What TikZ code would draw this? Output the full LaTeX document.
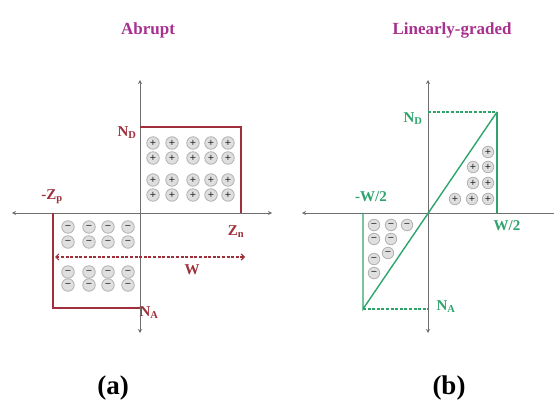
\documentclass[tikz,border=0pt]{standalone}
\usepackage{fontspec}
\setmainfont{Liberation Serif}
\usetikzlibrary{arrows.meta,positioning}
\definecolor{abr}{HTML}{9E2F3B}
\definecolor{lin}{HTML}{2EA46C}
\definecolor{head}{HTML}{A8318F}
\definecolor{axc}{HTML}{6F6F6F}

\begin{document}
\begin{tikzpicture}[x=1pt, y=-1pt,
      ax/.style={draw=axc, line width=0.9pt, {Stealth[length=4pt,width=4pt]}-{Stealth[length=4pt,width=4pt]}},
      prof/.style={line width=1.4pt},
      dsh/.style={line width=1.2pt, dash pattern=on 3pt off 1.6pt},
      ion/.style={circle, draw=gray!60, fill=gray!25, line width=0.8pt, inner sep=0pt,
                  minimum size=12.5pt, font=\fontsize{11}{11}\selectfont\bfseries, text=black!85},
      lbl/.style={font=\fontsize{15}{17}\selectfont\bfseries},
      heading/.style={font=\fontsize{17}{19}\selectfont\bfseries, text=head},
      tag/.style={font=\fontsize{27}{30}\selectfont\bfseries}]
    \useasboundingbox (0,0) rectangle (554,403);
    % (a) abrupt
    \node[heading] (ta) at (148,30) {Abrupt};
    \coordinate (aL) at (12,213);
    \coordinate (aR) at (272,213);
    \coordinate (aT) at (140,80);
    \coordinate (aB) at (140,333);
    \draw[ax] (aL) -- (aR);
    \draw[ax] (aT) -- (aB);
    \coordinate (nd0) at (140,127);
    \coordinate (nd1) at (241,127);
    \coordinate (zn) at (241,213);
    \coordinate (zp) at (53,213);
    \coordinate (na0) at (53,308);
    \coordinate (na1) at (140,308);
    \draw[prof, abr] (nd0) -- (nd1) -- (zn);
    \draw[prof, abr] (zp) -- (na0) -- (na1);
    \foreach \x [count=\i] in {153,172,193,211,228}
      \foreach \y [count=\j] in {143,158,180,195}
        \node[ion] (pa-\i-\j) at (\x,\y) {+};
    \foreach \x [count=\i] in {68,89,108,128}
      \foreach \y [count=\j] in {227,242,272,285}
        \node[ion] (ma-\i-\j) at (\x,\y) {−};
    \coordinate (wl) at (55,257);
    \coordinate (wr) at (245,257);
    \draw[abr, dsh, {Straight Barb[length=3pt]}-{Straight Barb[length=3pt]}] (wl) -- (wr);
    \node[lbl, abr] (lnd) at (127,133) {N\textsubscript{D}};
    \node[lbl, abr] (lzp) at (52,197) {-Z\textsubscript{p}};
    \node[lbl, abr] (lzn) at (236,232) {Z\textsubscript{n}};
    \node[lbl, abr] (lw) at (192,270) {W};
    \node[lbl, abr] (lna) at (149,313) {N\textsubscript{A}};
    \node[tag] (tga) at (113,388) {(a)};
    % (b) linearly graded
    \node[heading] (tb) at (452,30) {Linearly-graded};
    \coordinate (bL) at (302,213);
    \coordinate (bR) at (554,213);
    \coordinate (bT) at (428,80);
    \coordinate (bB) at (428,333);
    \draw[draw=axc, line width=0.9pt, {Stealth[length=4pt,width=4pt]}-] (bL) -- (bR);
    \draw[ax] (bT) -- (bB);
    \coordinate (bd0) at (428,112);
    \coordinate (bd1) at (497,112);
    \coordinate (bw) at (497,213);
    \coordinate (bmw) at (363,213);
    \coordinate (ba0) at (363,309);
    \coordinate (ba1) at (428,309);
    \draw[lin, dsh] (bd0) -- (bd1);
    \draw[prof, lin] (bd1) -- (bw);
    \draw[prof, lin] (bmw) -- (ba0) -- (bd1);
    \draw[lin, dsh] (ba0) -- (ba1);
    \foreach \p [count=\i] in {(488,152),(473,167),(488,167),(473,183),(488,183),(455,199),(472,199),(488,199)}
      \node[ion, minimum size=11.5pt] (pb-\i) at \p {+};
    \foreach \p [count=\i] in {(374,225),(391,225),(407,225),(374,239),(391,239),(388,253),(374,259),(374,273)}
      \node[ion, minimum size=11.5pt] (mb-\i) at \p {−};
    \node[lbl, lin] (bnd) at (413,119) {N\textsubscript{D}};
    \node[lbl, lin] (bmh) at (371,197) {-W/2};
    \node[lbl, lin] (bph) at (507,226) {W/2};
    \node[lbl, lin] (bna) at (446,307) {N\textsubscript{A}};
    \node[tag] (tgb) at (449,388) {(b)};
  \end{tikzpicture}
\end{document}
